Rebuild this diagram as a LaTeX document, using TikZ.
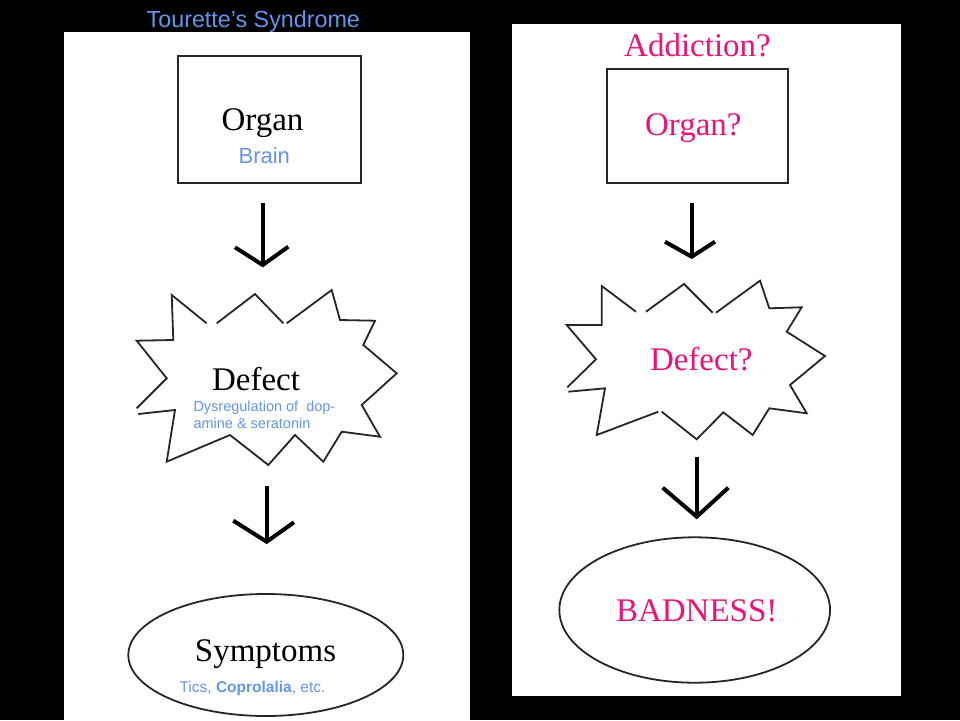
\documentclass[tikz,border=0pt]{standalone}
\usepackage{fontspec}
\setmainfont{Liberation Serif}
\setsansfont{Liberation Sans}
\usetikzlibrary{shapes.geometric}
\definecolor{tblue}{RGB}{100,149,237}
\definecolor{tpink}{RGB}{236,18,120}
\tikzset{
  panel/.style={fill=white,draw=none},
  boxline/.style={draw=black!85,line width=1.8pt},
  burst/.style={draw=black!85,line width=1.8pt,line join=miter},
  arrowline/.style={draw=black,line width=4pt,line cap=butt,line join=miter},
  bigtext/.style={font=\fontsize{33}{38}\selectfont,inner sep=0pt},
  subtext/.style={font=\sffamily\fontsize{22}{26}\selectfont,text=tblue,inner sep=0pt},
  smalltext/.style={font=\sffamily\fontsize{14.5}{18}\selectfont,text=tblue,inner sep=0pt},
}
\begin{document}
\begin{tikzpicture}[x=1pt,y=-1pt]
\useasboundingbox (0,0) rectangle (960,720);
\fill[black] (0,0) rectangle (960,720);
% panels
\fill[panel] (64,32) rectangle (470,720);
\fill[panel] (512,24) rectangle (901,696);

% ---------------- left ----------------
\node[anchor=base,font=\sffamily\fontsize{23.3}{28}\selectfont,text=tblue,inner sep=0pt] (title) at (253.3,27.3) {Tourette’s Syndrome};

\node[boxline,rectangle,minimum width=182.4pt,minimum height=126.7pt,inner sep=0pt] (organbox) at (269.5,119.4) {};
\node[bigtext,anchor=base] (organ) at (262.5,130) {Organ};
\node[subtext,anchor=base] (brain) at (264.3,163.3) {Brain};

\coordinate (la1top) at (262.7,203.3);
\coordinate (la1tip) at (262.7,265);
\coordinate (la1l) at (235,247.3);
\coordinate (la1r) at (288.3,246.7);
\draw[arrowline] (la1top) -- (la1tip);
\draw[arrowline] (la1l) -- (la1tip) -- (la1r);

% left starburst
\draw[burst] (216.7,323.3) -- (255,294) -- (283.3,323.3);
\draw[burst] (286.7,323.3) -- (331.7,290) -- (340,320) -- (375,320.7) -- (363.3,345) -- (396.7,373.3) -- (361.7,405) -- (380,436.7) -- (341.7,431.7) -- (323.3,461.7) -- (295,435) -- (268.3,465) -- (230,435) -- (166.7,461.7) -- (175,410) -- (138.3,414);
\draw[burst] (136.7,408.3) -- (166.7,378.3) -- (136.7,340.7) -- (173.3,340) -- (171.7,295) -- (206.7,323.3);
\node[bigtext,anchor=base] (defect) at (256,390) {Defect};
\node[smalltext,anchor=base west] (dys1) at (193.3,411) {Dysregulation of\ \ dop-};
\node[smalltext,anchor=base west] (dys2) at (193.3,428.5) {amine \& seratonin};

\coordinate (la2top) at (266.7,486);
\coordinate (la2tip) at (266.7,541.7);
\coordinate (la2l) at (233.3,520.7);
\coordinate (la2r) at (294,522.3);
\draw[arrowline] (la2top) -- (la2tip);
\draw[arrowline] (la2l) -- (la2tip) -- (la2r);

\node[boxline,ellipse,minimum width=275pt,minimum height=122pt,inner sep=0pt] (sympell) at (265.8,655) {};
\node[bigtext,anchor=base] (symptoms) at (265.5,661.7) {Symptoms};
\node[anchor=base,font=\sffamily\fontsize{15.5}{18}\selectfont,text=tblue,inner sep=0pt] (tics) at (252.5,692.3) {Tics, \textbf{Coprolalia}, etc.};

% ---------------- right ----------------
\node[bigtext,anchor=base,text=tpink] (addiction) at (697.5,56.7) {Addiction?};
\node[boxline,rectangle,minimum width=181pt,minimum height=114pt,inner sep=0pt] (organbox2) at (697.8,126.3) {};
\node[bigtext,anchor=base,text=tpink] (organ2) at (693.3,135) {Organ?};

\coordinate (ra1top) at (691.7,202.7);
\coordinate (ra1tip) at (691.7,256.7);
\coordinate (ra1l) at (665,241.7);
\coordinate (ra1r) at (715,241.7);
\draw[arrowline] (ra1top) -- (ra1tip);
\draw[arrowline] (ra1l) -- (ra1tip) -- (ra1r);

% right starburst
\draw[burst] (646,311.7) -- (684,284) -- (712.7,312.7);
\draw[burst] (716,312.7) -- (760,280.7) -- (769.3,308.3) -- (801.7,307.3) -- (786.7,331.7) -- (825,356) -- (790,385) -- (806.7,413.3) -- (769.3,408.3) -- (752.7,435) -- (723.3,412.3) -- (696.7,439.3) -- (661.7,411.7);
\draw[burst] (658.3,411.7) -- (596.7,435) -- (605,388.3) -- (568.3,391.7);
\draw[burst] (567.3,387.3) -- (596,359.3) -- (566.7,325) -- (601.7,325) -- (601.7,286) -- (636,311.7);
\node[bigtext,anchor=base,text=tpink] (defect2) at (701.3,370.7) {Defect?};

\coordinate (ra2top) at (696.7,456.7);
\coordinate (ra2tip) at (696.7,516.7);
\coordinate (ra2l) at (662.7,487.7);
\coordinate (ra2r) at (728.3,487.7);
\draw[arrowline] (ra2top) -- (ra2tip);
\draw[arrowline] (ra2l) -- (ra2tip) -- (ra2r);

\node[boxline,ellipse,minimum width=270.7pt,minimum height=145.4pt,inner sep=0pt] (badell) at (694.7,610) {};
\node[bigtext,anchor=base,text=tpink] (badness) at (696.7,621.7) {BADNESS!};
\end{tikzpicture}
\end{document}
